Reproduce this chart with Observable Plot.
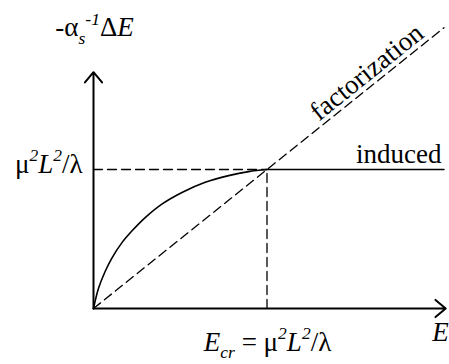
<!DOCTYPE html>
<html>
<head>
<meta charset="utf-8">
<script src="https://cdn.jsdelivr.net/npm/d3@7"></script>
<script src="https://cdn.jsdelivr.net/npm/@observablehq/plot@0.6"></script>
<style>
  html, body { margin: 0; padding: 0; background: #fff; }
  svg text, svg tspan { font-family: "Liberation Serif", "Times New Roman", "DejaVu Serif", serif !important; }
</style>
</head>
<body>
<div id="chart"></div>
<script>
// Energy (in units of E_cr) and induced loss (in units of mu^2 L^2 / lambda)
const curveE    = [0, 0.029, 0.067, 0.106, 0.163, 0.221, 0.298, 0.394, 0.510, 0.644, 0.779, 0.894, 1.0];
const curveLoss = [0, 0.145, 0.266, 0.363, 0.472, 0.557, 0.654, 0.751, 0.835, 0.908, 0.956, 0.985, 1.0];
const eCr = 1;
const lossMax = 1;
const eEnd = 2.02;
const yAxisTop = 1.70;
const xAxisEnd = 2.03;

const labelYTitle = "-αs-1ΔE";
const labelLevel = "μ2L2/λ";
const labelFact = "factorization";
const labelInduced = "induced";
const labelEcr = "Ecr = μ2L2/λ";
const labelE = "E";

// rich-text segments: [text, kind] kind: "", "i", "sub", "sup", "subi", "supi"
const rich = {
  "lbl-ytitle": [["-α", ""], ["s", "subi"], ["-1", "supi"], ["Δ", ""], ["E", "i"]],
  "lbl-level": [["μ", ""], ["2", "supi"], ["L", "i"], ["2", "supi"], ["/λ", ""]],
  "lbl-ecr": [["E", "i"], ["cr", "subi"], [" = μ", ""], ["2", "supi"], ["L", "i"], ["2", "supi"], ["/λ", ""]],
  "lbl-e": [["E", "i"]]
};

const curve = curveE.map((e, i) => ({e, loss: curveLoss[i]}));
const fs = 27;
const serif = "'Liberation Serif', 'Times New Roman', serif";

const plot = Plot.plot({
  width: 449,
  height: 364,
  marginLeft: 93,
  marginRight: 9,
  marginTop: 30,
  marginBottom: 56,
  x: {domain: [0, 2], axis: null},
  y: {domain: [0, 2], axis: null},
  style: {background: "#fff", fontFamily: serif},
  marks: [
    // dashed guides
    Plot.line([{e: 0, loss: 0}, {e: eEnd, loss: eEnd}], {x: "e", y: "loss", stroke: "#000", strokeWidth: 1.3, strokeDasharray: "9,5"}),
    Plot.line([{e: 0, loss: lossMax}, {e: eCr, loss: lossMax}], {x: "e", y: "loss", stroke: "#000", strokeWidth: 1.3, strokeDasharray: "9,5"}),
    Plot.line([{e: eCr, loss: 0}, {e: eCr, loss: lossMax}], {x: "e", y: "loss", stroke: "#000", strokeWidth: 1.3, strokeDasharray: "9,5"}),
    // induced curve and plateau
    Plot.line(curve, {x: "e", y: "loss", stroke: "#000", strokeWidth: 1.6, curve: "catmull-rom"}),
    Plot.line([{e: eCr, loss: lossMax}, {e: eEnd, loss: lossMax}], {x: "e", y: "loss", stroke: "#000", strokeWidth: 1.6}),
    // axes with arrows
    Plot.arrow([{x1: 0, y1: 0, x2: xAxisEnd, y2: 0}], {x1: "x1", y1: "y1", x2: "x2", y2: "y2", stroke: "#000", strokeWidth: 2, headLength: 10, headAngle: 80}),
    Plot.arrow([{x1: 0, y1: 0, x2: 0, y2: yAxisTop}], {x1: "x1", y1: "y1", x2: "x2", y2: "y2", stroke: "#000", strokeWidth: 2, headLength: 10, headAngle: 80}),
    // labels
    Plot.text([labelYTitle], {x: -0.22, y: 2.02, text: d => d, textAnchor: "start", fontSize: fs, className: "lbl-ytitle"}),
    Plot.text([labelLevel], {x: -0.063, y: 1.04, text: d => d, textAnchor: "end", fontSize: fs, className: "lbl-level"}),
    Plot.text([labelFact], {x: 1.575, y: 1.70, text: d => d, rotate: -38.8, fontSize: fs, className: "lbl-fact"}),
    Plot.text([labelInduced], {x: 2.006, y: 1.11, text: d => d, textAnchor: "end", fontSize: fs, className: "lbl-induced"}),
    Plot.text([labelEcr], {x: 1.003, y: -0.24, text: d => d, fontSize: fs, className: "lbl-ecr"}),
    Plot.text([labelE], {x: 2.0, y: -0.17, text: d => d, fontSize: fs, className: "lbl-e"})
  ]
});

const svg = d3.select(plot);
svg.attr("font-family", serif);
svg.selectAll("text").attr("font-family", serif);

// rebuild rich labels with tspans
for (const [cls, segs] of Object.entries(rich)) {
  svg.selectAll(`.${cls} text`).each(function () {
    const t = d3.select(this);
    t.text(null);
    let shift = 0; // baseline shift in px (positive = down)
    for (const [str, kind] of segs) {
      let target = 0, size = fs;
      if (kind.startsWith("sub")) { target = fs * 0.28; size = fs * 0.65; }
      if (kind.startsWith("sup")) { target = -fs * 0.42; size = fs * 0.65; }
      const ts = t.append("tspan").text(str).attr("dy", (target - shift) + "px").attr("font-size", size + "px");
      if (kind.endsWith("i")) ts.attr("font-style", "italic");
      shift = target;
    }
  });
}

document.getElementById("chart").appendChild(plot);
</script>
</body>
</html>
